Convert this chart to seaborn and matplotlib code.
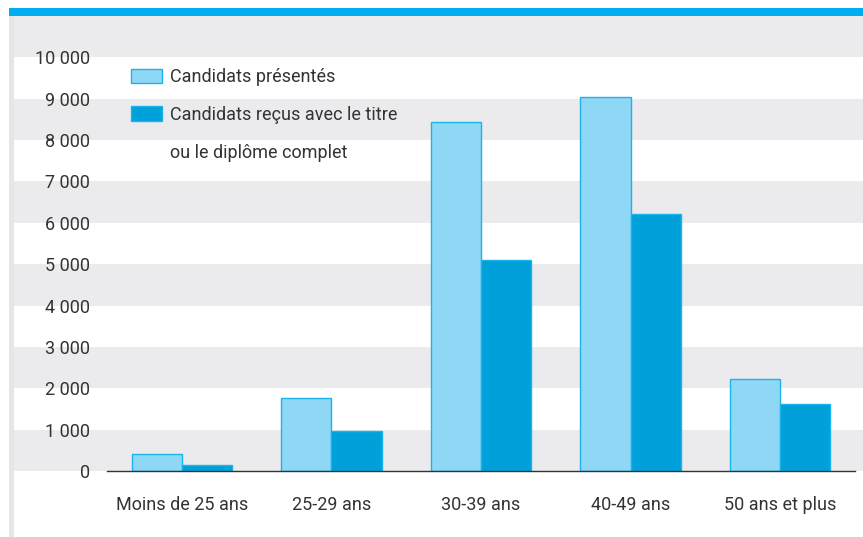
import matplotlib
matplotlib.use("Agg")
import matplotlib.pyplot as plt
from matplotlib.patches import Rectangle
import seaborn as sns
import pandas as pd

categories = ["Moins de 25 ans", "25-29 ans", "30-39 ans", "40-49 ans", "50 ans et plus"]
presentes = [405, 1765, 8430, 9040, 2220]
recus = [145, 960, 5100, 6215, 1620]
series_names = ["Candidats présentés", "Candidats reçus avec le titre\nou le diplôme complet"]
y_ticks = [0, 1000, 2000, 3000, 4000, 5000, 6000, 7000, 8000, 9000, 10000]
y_tick_labels = ["0", "1 000", "2 000", "3 000", "4 000", "5 000",
                 "6 000", "7 000", "8 000", "9 000", "10 000"]

df = pd.DataFrame({
    "Âge": categories * 2,
    "Nombre": presentes + recus,
    "Série": [series_names[0]] * len(categories) + [series_names[1]] * len(categories),
})

sns.set_style("white")
plt.rcParams["font.family"] = ["Roboto", "DejaVu Sans"]
TXT = "#333333"
FS = 13

W, H = 863, 537
fig = plt.figure(figsize=(W / 100, H / 100), dpi=100)
ax_l, ax_r, ax_b, ax_t = 107, 855, 471, 16
ax = fig.add_axes([ax_l / W, (H - ax_b) / H, (ax_r - ax_l) / W, (ax_b - ax_t) / H])

light, dark = "#8fd8f5", "#00a1da"
sns.barplot(data=df, x="Âge", y="Nombre", hue="Série", palette=[light, dark],
            width=0.67, saturation=1, edgecolor="#1ab4ec", linewidth=1.0,
            ax=ax, zorder=3)

ax.set_ylim(0, 11000)
ax.set_xlim(-0.5, 4.5)

# background bands
x0 = (14 - ax_l) / (ax_r - ax_l)
x1 = (W - ax_l) / (ax_r - ax_l)
for lo in range(0, 11000, 2000):
    ax.axhspan(lo, lo + 1000, xmin=x0, xmax=x1, color="#ebebed", lw=0,
               zorder=0, clip_on=False)

for s in ["top", "right", "left"]:
    ax.spines[s].set_visible(False)
ax.spines["bottom"].set_color(TXT)
ax.spines["bottom"].set_linewidth(1.0)
ax.spines["bottom"].set_zorder(4)

ax.set_yticks(y_ticks)
ax.set_yticklabels(y_tick_labels)
ax.tick_params(axis="y", length=0, pad=12, labelsize=FS, labelcolor=TXT)
ax.set_xticks(range(len(categories)))
ax.set_xticklabels(categories)
ax.tick_params(axis="x", which="major", length=0, pad=18, labelsize=FS, labelcolor=TXT)
ax.set_xticks([i - 0.5 for i in range(len(categories) + 1)], minor=True)
ax.tick_params(axis="x", which="minor", length=6, width=1, color=TXT, direction="out")
ax.set_xlabel("")
ax.set_ylabel("")
ax.grid(False)

# legend: first line of each series label gets the swatch, extra lines follow
handles, labels = ax.get_legend_handles_labels()
ax.get_legend().remove()
leg_handles, leg_labels = [], []
for h, lab in zip(handles, labels):
    parts = lab.split("\n")
    leg_handles.append(h)
    leg_labels.append(parts[0])
    for extra in parts[1:]:
        leg_handles.append(Rectangle((0, 0), 1, 1, alpha=0))
        leg_labels.append(extra)
leg = fig.legend(leg_handles, leg_labels, loc="upper left",
                 bbox_to_anchor=(131 / W, 1 - 68 / H), bbox_transform=fig.transFigure,
                 frameon=False, fontsize=FS, handlelength=1.72, handleheight=0.85,
                 handletextpad=0.45, labelspacing=1.1, borderpad=0, borderaxespad=0)
for t in leg.get_texts():
    t.set_color(TXT)

# decorative strips
fig.patches.append(Rectangle((9 / W, 0), 5 / W, (H - 16) / H, transform=fig.transFigure,
                             color="#e6e6e9", lw=0, zorder=-1))
fig.patches.append(Rectangle((9 / W, (H - 16) / H), (W - 9) / W, 8 / H,
                             transform=fig.transFigure, color="#00aeef", lw=0, zorder=5))

fig.savefig("out.png", dpi=100)
